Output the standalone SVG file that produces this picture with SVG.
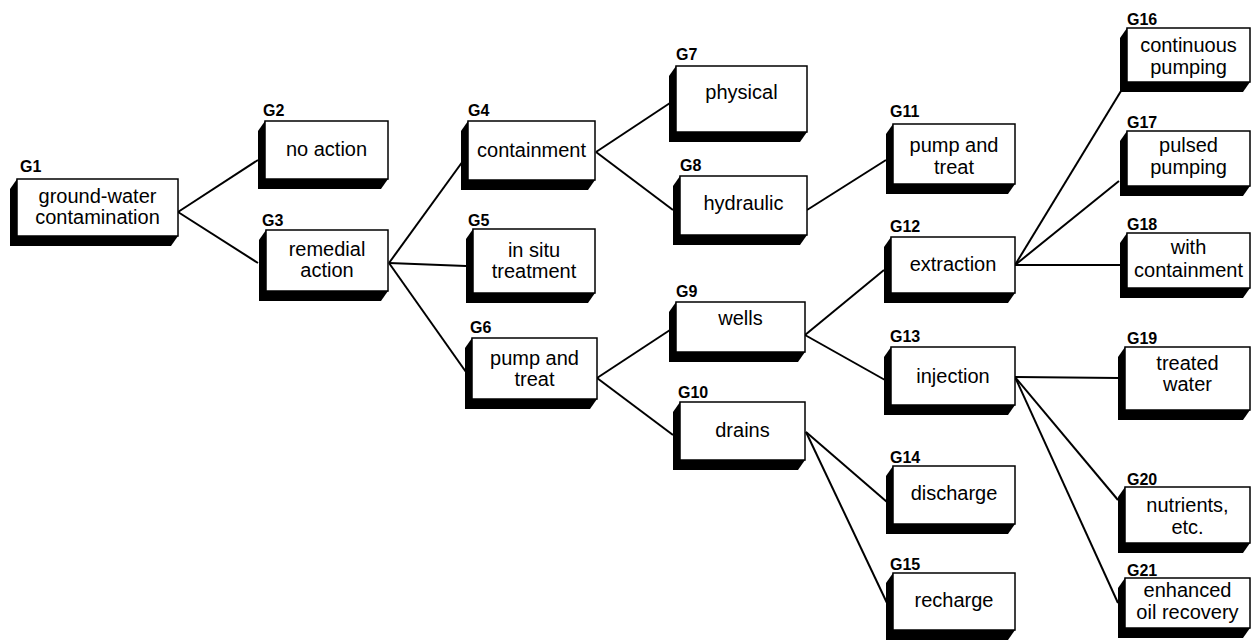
<svg xmlns="http://www.w3.org/2000/svg" width="1253" height="641" viewBox="0 0 1253 641">
<style>
.sh{fill:#000}
.fr{fill:#fff;stroke:#000;stroke-width:1.5}
.lb{font-family:"Liberation Sans",Arial,sans-serif;font-weight:bold;font-size:16px;fill:#000}
.tx{font-family:"Liberation Sans",Arial,sans-serif;font-size:20px;fill:#000;text-anchor:middle}
.cn line{stroke:#000;stroke-width:2}
</style>
<rect width="1253" height="641" fill="#fff"/>
<g id="connectors" class="cn">
<line x1="178" y1="212" x2="258" y2="160"/>
<line x1="178" y1="212" x2="258" y2="263"/>
<line x1="389" y1="263" x2="463" y2="161"/>
<line x1="389" y1="263" x2="466" y2="266"/>
<line x1="389" y1="263" x2="466" y2="372"/>
<line x1="596" y1="152" x2="670" y2="103"/>
<line x1="596" y1="152" x2="673" y2="210"/>
<line x1="807" y1="210" x2="886" y2="160"/>
<line x1="597" y1="378" x2="670" y2="330"/>
<line x1="597" y1="378" x2="673" y2="435"/>
<line x1="805" y1="335" x2="884" y2="270"/>
<line x1="805" y1="335" x2="885" y2="380"/>
<line x1="1015" y1="265" x2="1121" y2="91"/>
<line x1="1015" y1="265" x2="1119" y2="181"/>
<line x1="1015" y1="265" x2="1120" y2="265"/>
<line x1="1015" y1="377" x2="1119" y2="378"/>
<line x1="1015" y1="377" x2="1118" y2="500"/>
<line x1="1015" y1="377" x2="1118" y2="603"/>
<line x1="806" y1="432" x2="887" y2="502"/>
<line x1="806" y1="432" x2="887" y2="603"/>
</g>
<g id="G1"><path class="sh" d="M17,179 l-7,10 v57 h161 l7,-10 z"/><rect class="fr" x="17" y="179" width="161" height="57"/><text class="lb" x="20" y="172">G1</text><text class="tx" x="97.5" y="203">ground-water</text><text class="tx" x="97.5" y="224">contamination</text></g>
<g id="G2"><path class="sh" d="M265,121 l-7,10 v58 h123 l7,-10 z"/><rect class="fr" x="265" y="121" width="123" height="58"/><text class="lb" x="263" y="116">G2</text><text class="tx" x="326.5" y="156">no action</text></g>
<g id="G3"><path class="sh" d="M266,230 l-7,10 v61 h122 l7,-10 z"/><rect class="fr" x="266" y="230" width="122" height="61"/><text class="lb" x="262" y="226">G3</text><text class="tx" x="327" y="256">remedial</text><text class="tx" x="327" y="277">action</text></g>
<g id="G4"><path class="sh" d="M468,121 l-7,10 v59 h127 l7,-10 z"/><rect class="fr" x="468" y="121" width="127" height="59"/><text class="lb" x="468" y="116">G4</text><text class="tx" x="531.5" y="157">containment</text></g>
<g id="G5"><path class="sh" d="M473,229 l-7,10 v64 h122 l7,-10 z"/><rect class="fr" x="473" y="229" width="122" height="64"/><text class="lb" x="468" y="226">G5</text><text class="tx" x="534" y="257">in situ</text><text class="tx" x="534" y="278">treatment</text></g>
<g id="G6"><path class="sh" d="M472,338 l-7,10 v61 h125 l7,-10 z"/><rect class="fr" x="472" y="338" width="125" height="61"/><text class="lb" x="470" y="333">G6</text><text class="tx" x="534.5" y="365">pump and</text><text class="tx" x="534.5" y="386">treat</text></g>
<g id="G7"><path class="sh" d="M676,66 l-7,10 v66 h131 l7,-10 z"/><rect class="fr" x="676" y="66" width="131" height="66"/><text class="lb" x="676" y="60">G7</text><text class="tx" x="741.5" y="99">physical</text></g>
<g id="G8"><path class="sh" d="M680,176 l-7,10 v59 h127 l7,-10 z"/><rect class="fr" x="680" y="176" width="127" height="59"/><text class="lb" x="680" y="171">G8</text><text class="tx" x="743.5" y="210">hydraulic</text></g>
<g id="G9"><path class="sh" d="M676,302 l-7,10 v50 h129 l7,-10 z"/><rect class="fr" x="676" y="302" width="129" height="50"/><text class="lb" x="676" y="297">G9</text><text class="tx" x="740.5" y="325">wells</text></g>
<g id="G10"><path class="sh" d="M680,402 l-7,10 v58 h125 l7,-10 z"/><rect class="fr" x="680" y="402" width="125" height="58"/><text class="lb" x="678" y="398">G10</text><text class="tx" x="742.5" y="437">drains</text></g>
<g id="G11"><path class="sh" d="M893,124 l-7,10 v60 h122 l7,-10 z"/><rect class="fr" x="893" y="124" width="122" height="60"/><text class="lb" x="890" y="117">G11</text><text class="tx" x="954" y="152">pump and</text><text class="tx" x="954" y="174">treat</text></g>
<g id="G12"><path class="sh" d="M891,237 l-7,10 v56 h124 l7,-10 z"/><rect class="fr" x="891" y="237" width="124" height="56"/><text class="lb" x="890" y="232">G12</text><text class="tx" x="953" y="271">extraction</text></g>
<g id="G13"><path class="sh" d="M891,347 l-7,10 v58 h124 l7,-10 z"/><rect class="fr" x="891" y="347" width="124" height="58"/><text class="lb" x="890" y="342">G13</text><text class="tx" x="953" y="383">injection</text></g>
<g id="G14"><path class="sh" d="M893,466 l-7,10 v58 h122 l7,-10 z"/><rect class="fr" x="893" y="466" width="122" height="58"/><text class="lb" x="890" y="463">G14</text><text class="tx" x="954" y="500">discharge</text></g>
<g id="G15"><path class="sh" d="M893,573 l-7,10 v57 h122 l7,-10 z"/><rect class="fr" x="893" y="573" width="122" height="57"/><text class="lb" x="890" y="570">G15</text><text class="tx" x="954" y="607">recharge</text></g>
<g id="G16"><path class="sh" d="M1127,28 l-7,10 v54 h123 l7,-10 z"/><rect class="fr" x="1127" y="28" width="123" height="54"/><text class="lb" x="1127" y="25">G16</text><text class="tx" x="1188.5" y="52">continuous</text><text class="tx" x="1188.5" y="74">pumping</text></g>
<g id="G17"><path class="sh" d="M1127,131 l-7,10 v55 h123 l7,-10 z"/><rect class="fr" x="1127" y="131" width="123" height="55"/><text class="lb" x="1127" y="128">G17</text><text class="tx" x="1188.5" y="152">pulsed</text><text class="tx" x="1188.5" y="174">pumping</text></g>
<g id="G18"><path class="sh" d="M1127,233 l-7,10 v55 h123 l7,-10 z"/><rect class="fr" x="1127" y="233" width="123" height="55"/><text class="lb" x="1127" y="230">G18</text><text class="tx" x="1188.5" y="254">with</text><text class="tx" x="1188.5" y="277">containment</text></g>
<g id="G19"><path class="sh" d="M1125,347 l-7,10 v63 h125 l7,-10 z"/><rect class="fr" x="1125" y="347" width="125" height="63"/><text class="lb" x="1127" y="344">G19</text><text class="tx" x="1187.5" y="370">treated</text><text class="tx" x="1187.5" y="391">water</text></g>
<g id="G20"><path class="sh" d="M1125,487 l-7,10 v56 h125 l7,-10 z"/><rect class="fr" x="1125" y="487" width="125" height="56"/><text class="lb" x="1127" y="485">G20</text><text class="tx" x="1187.5" y="512">nutrients,</text><text class="tx" x="1187.5" y="534">etc.</text></g>
<g id="G21"><path class="sh" d="M1125,578 l-7,10 v50 h125 l7,-10 z"/><rect class="fr" x="1125" y="578" width="125" height="50"/><text class="lb" x="1127" y="576">G21</text><text class="tx" x="1187.5" y="597">enhanced</text><text class="tx" x="1187.5" y="619">oil recovery</text></g>
</svg>
